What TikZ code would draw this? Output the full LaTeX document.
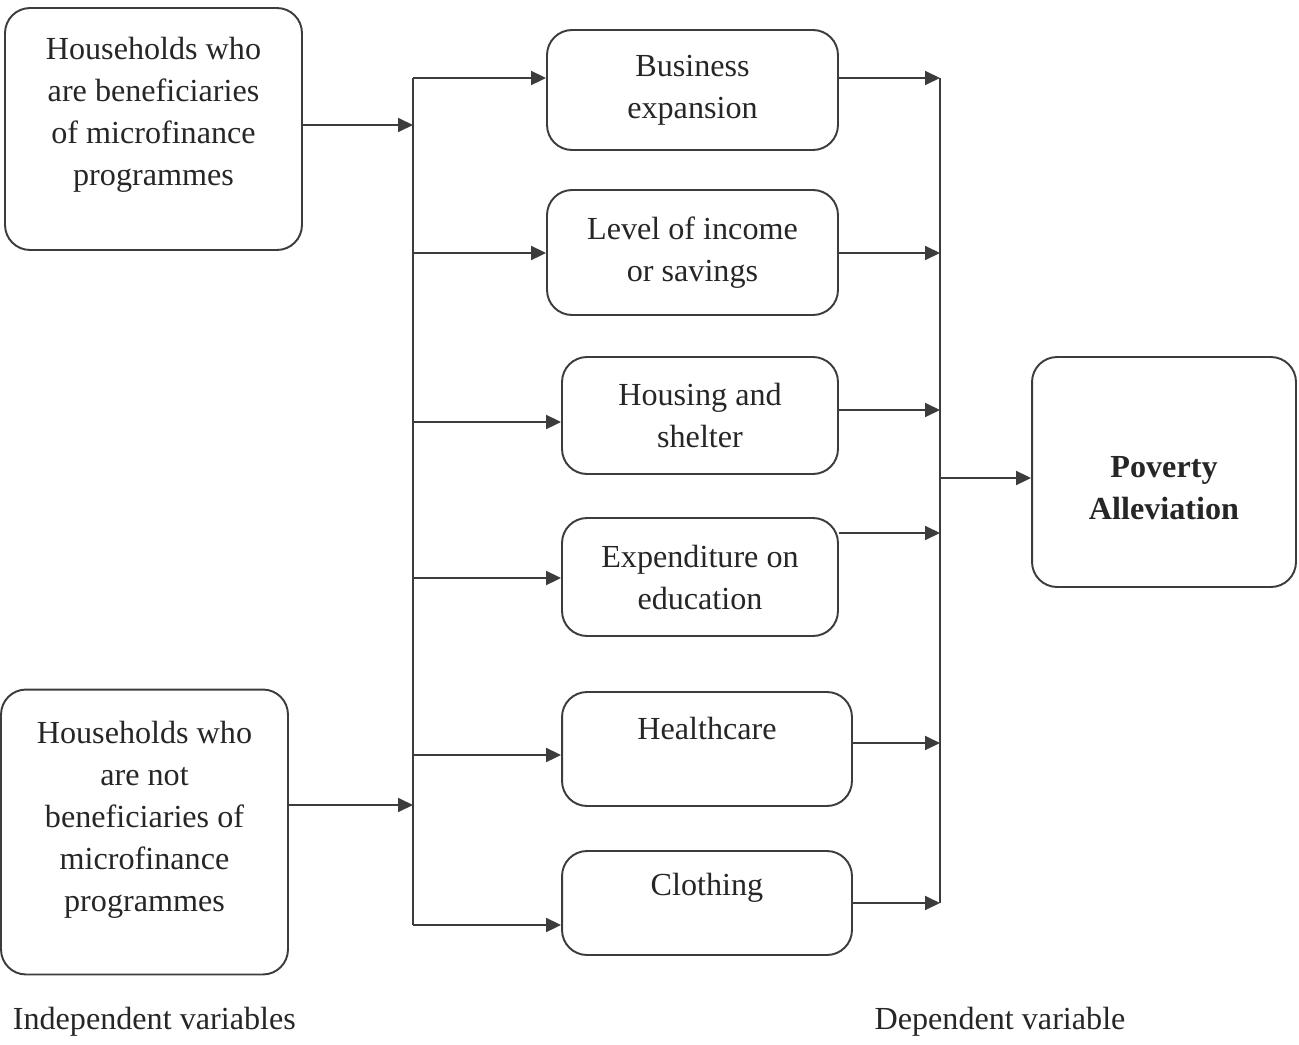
\documentclass[tikz,border=0pt]{standalone}
\usepackage{fontspec}
\setmainfont{Liberation Serif}
\usetikzlibrary{arrows.meta, positioning}
\definecolor{cline}{HTML}{3C3C3C}
\definecolor{ctext}{HTML}{262626}
\tikzset{
  every picture/.style={line width=1.1pt},
  box/.style={draw=cline, rounded corners=0.5cm, align=center, inner sep=4pt,
    text=ctext, font=\fontsize{18.3}{23.9}\selectfont},
  arr/.style={-{Triangle[length=0.3cm, width=0.28cm]}, draw=cline},
  bus/.style={draw=cline},
  caption/.style={text=ctext, font=\fontsize{18.3}{23.9}\selectfont},
}

\begin{document}
\begin{tikzpicture}[x=0.02cm, y=-0.02cm]
  \useasboundingbox (0,0) rectangle (1299,1045);
  % independent variables
  \node[box, minimum width=5.94cm, minimum height=4.84cm] (hb) at (153.5,129)
    {Households who\\are beneficiaries\\of microfinance\\programmes\\[-0.12cm]\mbox{}};
  \node[box, minimum width=5.74cm, minimum height=5.7cm] (hn) at (144.5,832)
    {Households who\\are not\\beneficiaries of\\microfinance\\programmes\\[-0.2cm]\mbox{}};
  % intermediate outcomes
  \node[box, minimum width=5.82cm, minimum height=2.4cm] (bus1) at (692.5,90) {Business\\expansion};
  \node[box, minimum width=5.82cm, minimum height=2.5cm] (inc) at (692.5,252.5) {Level of income\\or savings};
  \node[box, minimum width=5.52cm, minimum height=2.34cm] (hou) at (700,415.5) {Housing and\\shelter};
  \node[box, minimum width=5.52cm, minimum height=2.36cm] (edu) at (700,577) {Expenditure on\\education};
  \node[box, minimum width=5.8cm, minimum height=2.28cm] (hea) at (707,749) {Healthcare\\[-7pt] \strut};
  \node[box, minimum width=5.8cm, minimum height=2.08cm] (clo) at (707,903) {Clothing\\[-10pt] \strut};
  % dependent variable
  \node[box, minimum width=5.28cm, minimum height=4.6cm, font=\fontsize{18.3}{23.9}\selectfont\bfseries] (pov) at (1164,472)
    {\strut\\[-0.35cm]Poverty\\Alleviation};
  % bus lines
  \coordinate (l1) at (413,78);  \coordinate (l2) at (413,253);
  \coordinate (l3) at (413,422); \coordinate (l4) at (413,578);
  \coordinate (l5) at (413,755); \coordinate (l6) at (413,925);
  \coordinate (lt) at (413,125); \coordinate (lb) at (413,805);
  \coordinate (r1) at (940,78);  \coordinate (r2) at (940,253);
  \coordinate (r3) at (940,410); \coordinate (r4) at (940,533);
  \coordinate (r5) at (940,743); \coordinate (r6) at (940,903);
  \coordinate (rm) at (940,478);
  \draw[bus] (l1) -- (l6);
  \draw[bus] (r1) -- (r6);
  \draw[arr] (lt -| hb.east) -- (lt);
  \draw[arr] (lb -| hn.east) -- (lb);
  \draw[arr] (l1) -- (l1 -| bus1.west);
  \draw[arr] (l2) -- (l2 -| inc.west);
  \draw[arr] (l3) -- (l3 -| hou.west);
  \draw[arr] (l4) -- (l4 -| edu.west);
  \draw[arr] (l5) -- (l5 -| hea.west);
  \draw[arr] (l6) -- (l6 -| clo.west);
  \draw[arr] (r1 -| bus1.east) -- (r1);
  \draw[arr] (r2 -| inc.east) -- (r2);
  \draw[arr] (r3 -| hou.east) -- (r3);
  \draw[arr] (r4 -| edu.east) -- (r4);
  \draw[arr] (r5 -| hea.east) -- (r5);
  \draw[arr] (r6 -| clo.east) -- (r6);
  \draw[arr] (rm) -- (rm -| pov.west);
  % captions
  \node[caption, anchor=west] (indep) at (6,1022) {Independent variables};
  \node[caption] (dep) at (1000,1022) {Dependent variable};
\end{tikzpicture}
\end{document}
